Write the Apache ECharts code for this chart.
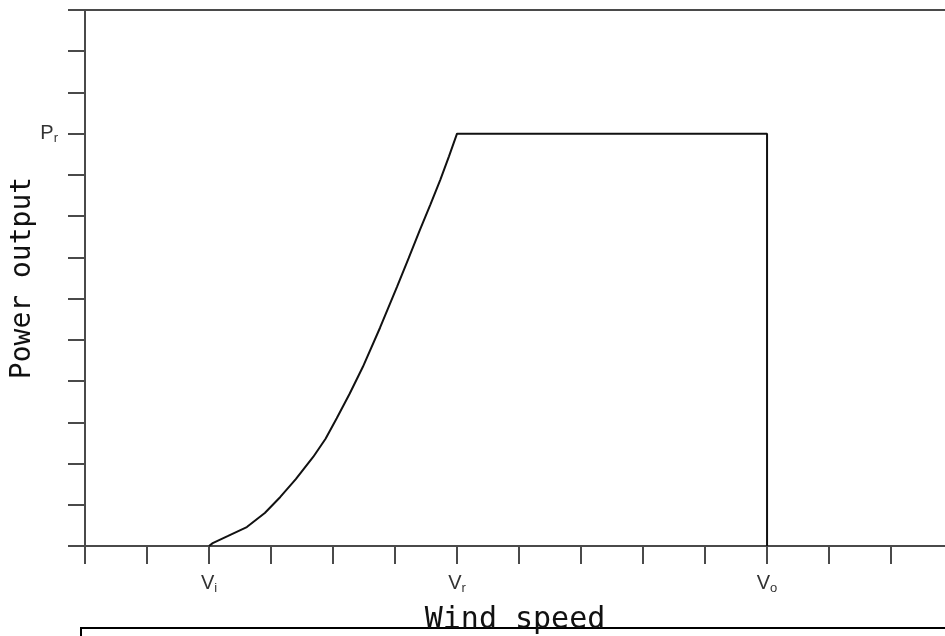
<!DOCTYPE html>
<html>
<head>
<meta charset="utf-8">
<title>Wind turbine power curve</title>
<script src="https://cdn.jsdelivr.net/npm/echarts@6/dist/echarts.min.js"></script>
<style>
  html, body { margin: 0; padding: 0; background: #fff; }
  #chart { width: 945px; height: 636px; }
</style>
</head>
<body>
<div id="chart"></div>
<script>
// Power curve: zero below cut-in, rising to rated power, flat until cut-out
const windSpeed = [2, 2.06, 2.3, 2.61, 2.9, 3.15, 3.4, 3.68, 3.88, 4.06, 4.27, 4.48, 4.76, 5.03, 5.22, 5.4, 5.57, 5.73, 5.87, 6, 11, 11];
const power     = [0, 0.07, 0.24, 0.46, 0.8, 1.19, 1.62, 2.16, 2.6, 3.1, 3.7, 4.34, 5.3, 6.28, 6.98, 7.66, 8.28, 8.88, 9.45, 10, 10, 0];

// Tick positions on both axes
const xTicks = [0, 1, 2, 3, 4, 5, 6, 7, 8, 9, 10, 11, 12, 13];
const yTicks = [0, 1, 2, 3, 4, 5, 6, 7, 8, 9, 10, 11, 12, 13];

// Labelled ticks on the wind speed axis (V with subscript)
const xLabelValues = [2, 6, 11];
const xLabelSubs   = ['i', 'r', 'o'];
// Labelled ticks on the power axis (P with subscript)
const yLabelValues = [10];
const yLabelSubs   = ['r'];

const axisColor = '#4a4a4a';
const labelFont = 'Liberation Sans';

const chart = echarts.init(document.getElementById('chart'));

chart.setOption({
  backgroundColor: '#fff',
  animation: false,
  grid: { left: 85, top: 10, right: 0, bottom: 90, containLabel: false, outerBoundsMode: 'none' },
  xAxis: [
    {
      type: 'value', min: 0, max: 13.87, position: 'bottom',
      name: 'Wind speed', nameLocation: 'middle', nameGap: 59, nameMoveOverlap: false,
      nameTextStyle: { fontFamily: 'DejaVu Sans Mono', fontSize: 30, color: '#111' },
      axisLine: { onZero: false, lineStyle: { color: axisColor, width: 2 } },
      axisTick: { inside: false, length: 18, customValues: xTicks, lineStyle: { color: axisColor, width: 2 } },
      splitLine: { show: false },
      axisLabel: {
        margin: 26,
        customValues: xLabelValues,
        formatter: function (v) {
          const i = xLabelValues.indexOf(v);
          return i < 0 ? '' : '{m|V}{s|' + xLabelSubs[i] + '}';
        },
        rich: {
          m: { fontFamily: labelFont, fontSize: 20, color: '#333' },
          s: { fontFamily: labelFont, fontSize: 13, color: '#333', padding: [10, 0, 0, 0] }
        }
      }
    },
    {
      type: 'value', min: 0, max: 13.87, position: 'top',
      axisLine: { onZero: false, lineStyle: { color: axisColor, width: 2 } },
      axisTick: { show: false }, axisLabel: { show: false }, splitLine: { show: false }
    }
  ],
  yAxis: {
    type: 'value', min: 0, max: 13,
    name: 'Power output', nameLocation: 'middle', nameGap: 48, nameRotate: 90, nameMoveOverlap: false,
    nameTextStyle: { fontFamily: 'DejaVu Sans Mono', fontSize: 28, color: '#111' },
    axisLine: { onZero: false, lineStyle: { color: axisColor, width: 2 } },
    axisTick: { inside: false, length: 17, customValues: yTicks, lineStyle: { color: axisColor, width: 2 } },
    splitLine: { show: false },
    axisLabel: {
      margin: 27,
      customValues: yLabelValues,
      formatter: function (v) {
        const i = yLabelValues.indexOf(v);
        return i < 0 ? '' : '{m|P}{s|' + yLabelSubs[i] + '}';
      },
      rich: {
        m: { fontFamily: labelFont, fontSize: 20, color: '#333' },
        s: { fontFamily: labelFont, fontSize: 13, color: '#333', padding: [10, 0, 0, 0] }
      }
    }
  },
  series: [{
    type: 'line',
    data: windSpeed.map((x, i) => [x, power[i]]),
    smooth: false,
    showSymbol: false,
    lineStyle: { color: '#111', width: 2 },
    clip: false
  }],
  graphic: [{
    type: 'rect',
    shape: { x: 81, y: 628, width: 900, height: 60 },
    style: { fill: 'none', stroke: '#000', lineWidth: 2 }
  }]
});
</script>
</body>
</html>
